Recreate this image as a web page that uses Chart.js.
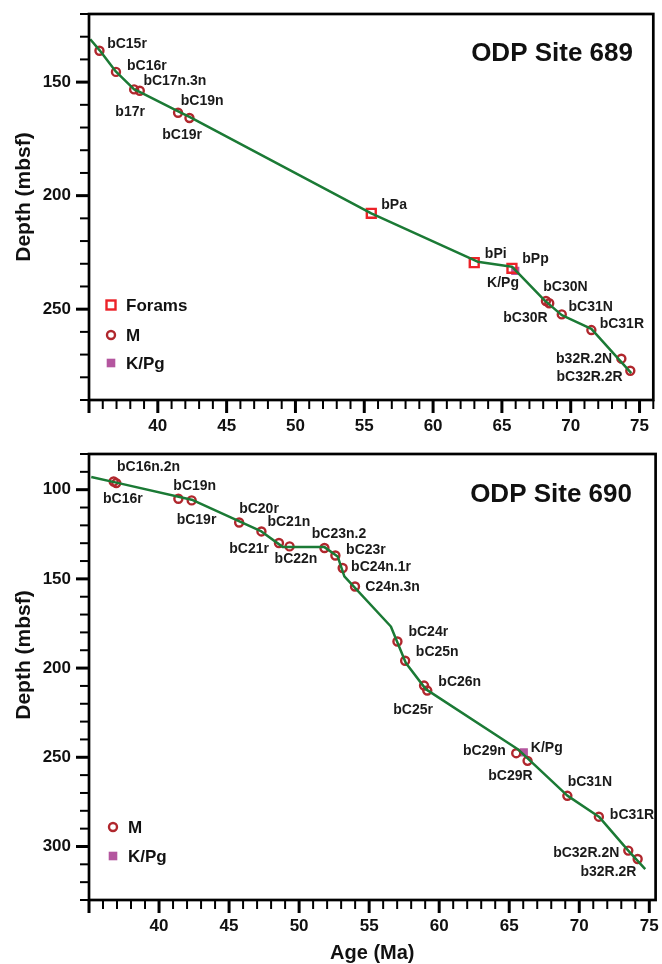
<!DOCTYPE html>
<html><head><meta charset="utf-8">
<script src="https://cdn.jsdelivr.net/npm/chart.js@4.4.1/dist/chart.umd.min.js"></script>
<style>
html,body{margin:0;padding:0;background:#fff;}
#wrap{position:relative;width:662px;height:964px;overflow:hidden;}
canvas{display:block;position:absolute;left:0;}
#c1{top:0;} #c2{top:440px;}
</style></head><body>
<div id="wrap">
<canvas id="c1" width="662" height="440"></canvas>
<canvas id="c2" width="662" height="524"></canvas>
</div>
<script>
// ================= DATA =================
// Tick labels
const ageTickLabels = [40, 45, 50, 55, 60, 65, 70, 75];
const depthTickLabels689 = [150, 200, 250];
const depthTickLabels690 = [100, 150, 200, 250, 300];

// ---- ODP Site 689 ----
const s689_M_names = ['bC15r','bC16r','b17r','bC17n.3n','bC19n','bC19r','bC30N','bC30R','bC31N','bC31R','b32R.2N','bC32R.2R'];
const s689_M_age   = [35.76, 36.96, 38.28, 38.69, 41.47, 42.30, 68.20, 68.44, 69.35, 71.50, 73.68, 74.33];
const s689_M_depth = [136.2, 145.5, 153.2, 153.8, 163.5, 165.8, 246.4, 247.4, 252.3, 259.2, 271.8, 277.1];
const s689_F_names = ['bPa','bPi','bPp'];
const s689_F_age   = [55.51, 62.99, 65.73];
const s689_F_depth = [207.8, 229.5, 232.0];
const s689_K_names = ['K/Pg'];
const s689_K_age   = [65.97];
const s689_K_depth = [233.1];
const s689_model_age   = [35.09, 35.76, 36.96, 38.28, 38.64, 41.52, 42.37, 55.51, 63.23, 65.73, 68.08, 69.35, 71.50, 74.40];
const s689_model_depth = [131.1, 135.9, 145.4, 153.2, 154.2, 163.0, 165.5, 207.8, 229.1, 231.3, 246.0, 252.6, 258.7, 278.2];

// ---- ODP Site 690 ----
const s690_M_names = ['bC16n.2n','bC16r','bC19n','bC19r','bC20r','bC21n','bC21r','bC22n','bC23n.2','bC23r','bC24n.1r','C24n.3n','bC24r','bC25n','bC26n','bC25r','bC29n','bC29R','bC31N','bC31R','bC32R.2N','b32R.2R'];
const s690_M_age   = [36.76, 36.95, 41.38, 42.33, 45.72, 47.31, 48.56, 49.32, 51.81, 52.59, 53.11, 53.99, 57.02, 57.57, 58.92, 59.15, 65.50, 66.31, 69.15, 71.40, 73.50, 74.17];
const s690_M_depth = [95.4, 96.3, 105.1, 106.0, 118.4, 123.4, 129.9, 131.8, 132.7, 136.9, 143.9, 154.3, 185.1, 195.9, 209.8, 212.6, 247.7, 252.0, 271.6, 283.3, 302.3, 307.0];
const s690_K_names = ['K/Pg'];
const s690_K_age   = [66.04];
const s690_K_depth = [247.3];
const s690_model_age   = [35.16, 36.88, 42.33, 47.31, 48.85, 51.81, 52.75, 53.23, 56.55, 57.62, 59.04, 65.67, 69.15, 71.40, 73.50, 74.71];
const s690_model_depth = [92.9, 95.9, 105.6, 123.4, 132.2, 132.2, 137.4, 148.6, 176.7, 197.2, 211.8, 245.8, 271.5, 283.3, 302.3, 312.7];

// ================= STYLE =================
const FONT = "'Liberation Sans', Arial, Helvetica, sans-serif";
const GREEN = '#1b7a35', MRED = '#b0272d', FRED = '#ec2228', PURPLE = '#b4569f';

// label text placement (offsets in px from the marker)
const place689 = {
  'bC15r':{dx:7.7,dy:-6.7,a:'left'}, 'bC16r':{dx:11,dy:-5.3,a:'left'},
  'bC17n.3n':{dx:3.6,dy:-9.7,a:'left'}, 'b17r':{dx:-4,dy:23,a:'center'},
  'bC19n':{dx:2.7,dy:-11.7,a:'left'}, 'bC19r':{dx:-7.4,dy:17,a:'center'},
  'bPa':{dx:10,dy:-8.3,a:'left'}, 'bPi':{dx:10.6,dy:-8.7,a:'left'}, 'bPp':{dx:10.3,dy:-9,a:'left'},
  'K/Pg':{dx:3.7,dy:12,a:'right'},
  'bC30N':{dx:-2.7,dy:-14.3,a:'left'}, 'bC30R':{dx:-1.6,dy:14.4,a:'right'},
  'bC31N':{dx:6.7,dy:-7.3,a:'left'}, 'bC31R':{dx:8.3,dy:-6,a:'left'},
  'b32R.2N':{dx:-9.3,dy:0.6,a:'right'}, 'bC32R.2R':{dx:-7.7,dy:6,a:'right'}
};
const place690 = {
  'bC16n.2n':{dx:3.4,dy:-14.4,a:'left'}, 'bC16r':{dx:-13.3,dy:15.7,a:'left'},
  'bC19n':{dx:-5,dy:-12.3,a:'left'}, 'bC19r':{dx:-15,dy:19.3,a:'left'},
  'bC20r':{dx:0,dy:-13.4,a:'left'}, 'bC21n':{dx:6,dy:-9,a:'left'},
  'bC21r':{dx:-10,dy:6,a:'right'}, 'bC22n':{dx:-15,dy:12.6,a:'left'},
  'bC23n.2':{dx:-12.7,dy:-14.3,a:'left'}, 'bC23r':{dx:10.7,dy:-5,a:'left'},
  'bC24n.1r':{dx:8.4,dy:-0.6,a:'left'}, 'C24n.3n':{dx:10.3,dy:0.6,a:'left'},
  'bC24r':{dx:11,dy:-9,a:'left'}, 'bC25n':{dx:10.7,dy:-8.7,a:'left'},
  'bC26n':{dx:14.3,dy:-3,a:'left'}, 'bC25r':{dx:5.7,dy:19.3,a:'right'},
  'bC29n':{dx:-10.4,dy:-1.6,a:'right'}, 'K/Pg':{dx:7,dy:-4.8,a:'left'},
  'bC29R':{dx:5,dy:15.7,a:'right'}, 'bC31N':{dx:0.3,dy:-13.7,a:'left'},
  'bC31R':{dx:11,dy:-1.7,a:'left'}, 'bC32R.2N':{dx:-9,dy:2.6,a:'right'},
  'b32R.2R':{dx:-1.2,dy:13.3,a:'right'}
};

function pts(xs, ys){ return xs.map((x,i)=>({x:x, y:ys[i]})); }

const mStyle = {pointStyle:'circle', pointRadius:4, pointBorderWidth:2.4, pointBorderColor:MRED, pointBackgroundColor:'rgba(0,0,0,0)'};
const fStyle = {pointStyle:'rect', pointRadius:6.3, pointBorderWidth:2.4, pointBorderColor:FRED, pointBackgroundColor:'rgba(0,0,0,0)'};
const kStyle = {pointStyle:'rect', pointRadius:5.8, pointBorderWidth:0, pointBorderColor:PURPLE, pointBackgroundColor:PURPLE};

// ================= PLUGIN =================
const decoPlugin = {
  id: 'deco',
  afterDatasetsDraw(chart, args, o) {
    const ctx = chart.ctx;
    ctx.save();
    ctx.font = 'bold 14px ' + FONT;
    ctx.fillStyle = '#1a1a1a';
    ctx.textBaseline = 'middle';
    chart.data.datasets.forEach((ds, i) => {
      if (!ds.pointLabels) return;
      const meta = chart.getDatasetMeta(i);
      meta.data.forEach((el, j) => {
        const name = ds.pointLabels[j];
        const p = o.place[name];
        if (!p) return;
        ctx.textAlign = p.a;
        ctx.fillText(name, el.x + p.dx, el.y + p.dy);
      });
    });
    ctx.restore();
  },
  afterDraw(chart, args, o) {
    const ctx = chart.ctx, a = chart.chartArea;
    const xs = chart.scales.x, ys = chart.scales.y;
    ctx.save();
    ctx.strokeStyle = '#000';
    ctx.lineCap = 'butt';
    xs.ticks.forEach(t => {
      const v = t.value; const r = Math.round(v);
      if (Math.abs(v - r) > 1e-6) return;
      const major = r % 5 === 0;
      const px = xs.getPixelForValue(v);
      ctx.lineWidth = major ? 3 : 2;
      ctx.beginPath(); ctx.moveTo(px, a.bottom); ctx.lineTo(px, a.bottom + (major ? 13 : 9)); ctx.stroke();
    });
    ys.ticks.forEach(t => {
      const v = t.value; const r = Math.round(v);
      if (Math.abs(v - r) > 1e-6 || r % 10 !== 0) return;
      const major = r % 50 === 0;
      const py = ys.getPixelForValue(v);
      ctx.lineWidth = major ? 3 : 2;
      ctx.beginPath(); ctx.moveTo(a.left, py); ctx.lineTo(a.left - (major ? 13 : 9), py); ctx.stroke();
    });
    ctx.lineWidth = 2.7;
    ctx.strokeRect(a.left, a.top, a.right - a.left, a.bottom - a.top);

    // title
    ctx.fillStyle = '#111';
    ctx.font = 'bold 26px ' + FONT;
    ctx.textAlign = 'right'; ctx.textBaseline = 'middle';
    ctx.fillText(o.title, o.titleX, o.titleY);

    // y axis title
    ctx.font = 'bold 21px ' + FONT;
    ctx.save();
    ctx.translate(o.yTitleX, o.yTitleY);
    ctx.rotate(-Math.PI / 2);
    ctx.textAlign = 'center'; ctx.textBaseline = 'middle';
    ctx.fillText('Depth (mbsf)', 0, 0);
    ctx.restore();

    if (o.xTitle) {
      ctx.font = 'bold 20px ' + FONT;
      ctx.textAlign = 'center'; ctx.textBaseline = 'middle';
      ctx.fillText(o.xTitle, (a.left + a.right) / 2, o.xTitleY);
    }

    // legend
    o.legend.forEach((it, k) => {
      const y = o.legendY[k], x = o.legendX;
      ctx.save();
      if (it.kind === 'F') {
        ctx.strokeStyle = FRED; ctx.lineWidth = 2.4;
        ctx.strokeRect(x - 4.5, y - 4.5, 9, 9);
      } else if (it.kind === 'M') {
        ctx.strokeStyle = MRED; ctx.lineWidth = 2.4;
        ctx.beginPath(); ctx.arc(x, y, 4, 0, Math.PI * 2); ctx.stroke();
      } else {
        ctx.fillStyle = PURPLE;
        ctx.fillRect(x - 4.3, y - 4.3, 8.6, 8.6);
      }
      ctx.restore();
      ctx.fillStyle = '#111';
      ctx.font = 'bold 17px ' + FONT;
      ctx.textAlign = 'left'; ctx.textBaseline = 'middle';
      ctx.fillText(it.label, x + 15, y + 1);
    });
    ctx.restore();
  }
};

function makeScales(xMax, yMin, yMax, yLabels, xHeight) {
  const tickFont = {family: FONT, size: 17, weight: 'bold'};
  return {
    x: {
      type: 'linear', position: 'bottom', min: 35, max: xMax,
      grid: {display: false, drawTicks: false}, border: {display: false},
      ticks: {stepSize: 1, includeBounds: false, autoSkip: false, maxRotation: 0, minRotation: 0,
        padding: 16, font: tickFont, color: '#111',
        callback: v => ageTickLabels.includes(v) ? String(v) : ''},
      afterFit: s => { s.height = xHeight; s.paddingLeft = 0; s.paddingRight = 0; }
    },
    y: {
      type: 'linear', position: 'left', reverse: true, min: yMin, max: yMax,
      grid: {display: false, drawTicks: false}, border: {display: false},
      ticks: {stepSize: 10, includeBounds: false, autoSkip: false, padding: 18, font: tickFont, color: '#111',
        callback: v => yLabels.includes(v) ? String(v) : ''},
      afterFit: s => { s.width = 89; s.paddingTop = 0; s.paddingBottom = 0; }
    }
  };
}

const common = {
  responsive: false, animation: false, devicePixelRatio: 1, events: [],
  layout: {padding: {top: 14, right: 3, left: 0, bottom: 0}},
};

// ---- Chart 1: Site 689 ----
new Chart(document.getElementById('c1'), {
  type: 'scatter',
  data: {datasets: [
    {data: pts(s689_model_age, s689_model_depth), showLine: true, borderColor: GREEN, borderWidth: 2.5,
      pointRadius: 0, tension: 0, borderJoinStyle: 'round', order: 0},
    Object.assign({data: pts(s689_M_age, s689_M_depth), pointLabels: s689_M_names, order: 1}, mStyle),
    Object.assign({data: pts(s689_F_age, s689_F_depth), pointLabels: s689_F_names, order: 2}, fStyle),
    Object.assign({data: pts(s689_K_age, s689_K_depth), pointLabels: s689_K_names, order: 3}, kStyle)
  ]},
  options: Object.assign({}, common, {
    scales: makeScales(76, 120, 290, depthTickLabels689, 40),
    plugins: {legend: {display: false}, tooltip: {enabled: false},
      deco: {place: place689, title: 'ODP Site 689', titleX: 633, titleY: 54,
        yTitleX: 24, yTitleY: 197, xTitle: null,
        legend: [{kind:'F', label:'Forams'}, {kind:'M', label:'M'}, {kind:'K', label:'K/Pg'}],
        legendX: 111, legendY: [305, 335, 363]}}
  }),
  plugins: [decoPlugin]
});

// ---- Chart 2: Site 690 ----
new Chart(document.getElementById('c2'), {
  type: 'scatter',
  data: {datasets: [
    {data: pts(s690_model_age, s690_model_depth), showLine: true, borderColor: GREEN, borderWidth: 2.5,
      pointRadius: 0, tension: 0, borderJoinStyle: 'round', order: 0},
    Object.assign({data: pts(s690_M_age, s690_M_depth), pointLabels: s690_M_names, order: 1}, mStyle),
    Object.assign({data: pts(s690_K_age, s690_K_depth), pointLabels: s690_K_names, order: 3}, kStyle)
  ]},
  options: Object.assign({}, common, {
    scales: makeScales(75.45, 80, 330, depthTickLabels690, 64),
    plugins: {legend: {display: false}, tooltip: {enabled: false},
      deco: {place: place690, title: 'ODP Site 690', titleX: 632, titleY: 55,
        yTitleX: 24, yTitleY: 215, xTitle: 'Age (Ma)', xTitleY: 513,
        legend: [{kind:'M', label:'M'}, {kind:'K', label:'K/Pg'}],
        legendX: 113, legendY: [387, 416]}}
  }),
  plugins: [decoPlugin]
});
</script>
</body></html>
